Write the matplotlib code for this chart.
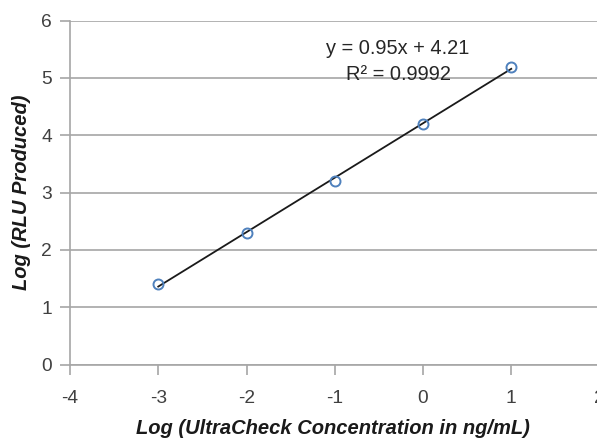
import matplotlib
matplotlib.use("Agg")
import matplotlib.pyplot as plt
import numpy as np

log_conc = [-3, -2, -1, 0, 1]
log_rlu = [1.4, 2.3, 3.2, 4.2, 5.2]
slope = 0.95
intercept = 4.21
r2_text = "R² = 0.9992"
eq_text = "y = 0.95x + 4.21"
x_ticks = [-4, -3, -2, -1, 0, 1, 2]
y_ticks = [0, 1, 2, 3, 4, 5, 6]

plt.rcParams['font.family'] = ['Liberation Sans', 'DejaVu Sans']

W, H = 597, 438
fig = plt.figure(figsize=(W/100, H/100), dpi=100)
left_px, right_px, top_px, bot_px = 70, 599.5, 20.7, 364.5
ax = fig.add_axes([left_px/W, 1-bot_px/H, (right_px-left_px)/W, (bot_px-top_px)/H])

ax.set_xlim(-4, 2)
ax.set_ylim(0, 6)
ax.set_xticks(x_ticks)
ax.set_yticks(y_ticks)
ax.set_xticklabels([str(t) for t in x_ticks])
ax.set_yticklabels([str(t) for t in y_ticks])

grid_c = '#a6a6a6'
ax.grid(axis='y', color=grid_c, linewidth=1.2)
ax.set_axisbelow(True)
for s in ['top', 'right']:
    ax.spines[s].set_visible(False)
for s in ['left', 'bottom']:
    ax.spines[s].set_color(grid_c)
    ax.spines[s].set_linewidth(1.2)
ax.tick_params(axis='both', direction='out', length=7, width=1.2, color=grid_c,
               labelsize=13.8, labelcolor='#404040')
ax.tick_params(axis='x', pad=11.5)
ax.tick_params(axis='y', pad=6)

xs = np.array([min(log_conc), max(log_conc)])
ax.plot(xs, slope*xs + intercept, color='#1a1a1a', linewidth=1.3, zorder=3)
ax.plot(log_conc, log_rlu, linestyle='none', marker='o', markersize=7.2,
        markerfacecolor='none', markeredgecolor='#4f81bd', markeredgewidth=1.4, zorder=4)

fig.text(397.5/W, 1-49/H, eq_text, ha='center', va='center', fontsize=14.4, color='#262626')
fig.text(399/W, 1-74/H, r2_text, ha='center', va='center', fontsize=14.4, color='#262626')

fig.text(333/W, 1-428/H, "Log (UltraCheck Concentration in ng/mL)", fontsize=14.5,
         fontweight='bold', fontstyle='italic', color='#1a1a1a', ha='center', va='center')
fig.text(22/W, 1-192/H, "Log (RLU Produced)", fontsize=14.5, rotation=90,
         fontweight='bold', fontstyle='italic', color='#1a1a1a', ha='center', va='center')

fig.savefig("out.png", dpi=100)
